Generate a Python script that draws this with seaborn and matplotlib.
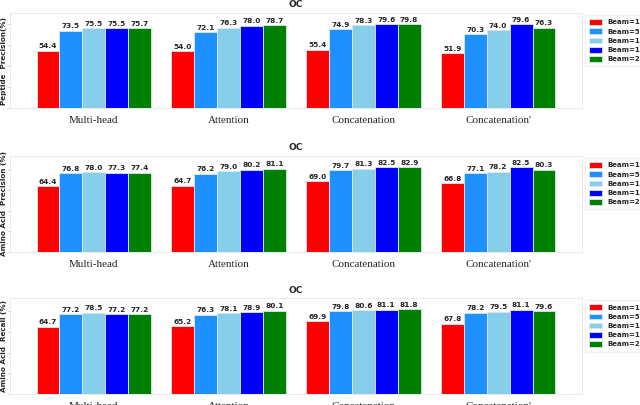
import numpy as np
import matplotlib as mpl
mpl.use('Agg')
import matplotlib.pyplot as plt
import seaborn as sns
import pandas as pd

models = ['Multi-head', 'Attention', 'Concatenation', "Concatenation'"]
beams = ['Beam=1', 'Beam=5', 'Beam=10', 'Beam=15', 'Beam=20']
colors = ['red', 'dodgerblue', 'skyblue', 'blue', 'green']

# rows = models, cols = beams
pep_prec = [[54.4, 73.5, 75.5, 75.5, 75.7],
            [54.0, 72.1, 76.3, 78.0, 78.7],
            [55.4, 74.9, 78.3, 79.6, 79.8],
            [51.9, 70.3, 74.0, 79.6, 76.3]]
aa_prec = [[64.4, 76.8, 78.0, 77.3, 77.4],
           [64.7, 76.2, 79.0, 80.2, 81.1],
           [69.0, 79.7, 81.3, 82.5, 82.9],
           [66.8, 77.1, 78.2, 82.5, 80.3]]
aa_rec = [[64.7, 77.2, 78.5, 77.2, 77.2],
          [65.2, 76.3, 78.1, 78.9, 80.1],
          [69.9, 79.8, 80.6, 81.1, 81.8],
          [67.8, 78.2, 79.5, 81.1, 79.6]]

panels = [(pep_prec, 'Peptide  Precision(%)'),
          (aa_prec, 'Amino Acid  Precision (%)'),
          (aa_rec, 'Amino Acid  Recall (%)')]

sns.set_style('white')
plt.rcParams['font.family'] = ['DejaVu Sans']

fig = plt.figure(figsize=(6.4, 4.05), dpi=100)
boxes = [[0.016, 0.733, 0.893, 0.235],
         [0.016, 0.378, 0.893, 0.237],
         [0.016, 0.027, 0.893, 0.237]]

for (vals, ylab), box in zip(panels, boxes):
    ax = fig.add_axes(box)
    rows = []
    for m, row in zip(models, vals):
        for b, v in zip(beams, row):
            rows.append({'model': m, 'beam': b, 'value': v})
    df = pd.DataFrame(rows)
    sns.barplot(data=df, x='model', y='value', hue='beam', order=models,
                hue_order=beams, palette=colors, width=0.85, ax=ax,
                saturation=1, edgecolor='#d8e8f0', linewidth=0.6,
                errorbar=None)
    for c in ax.containers:
        ax.bar_label(c, fmt='%.1f', fontsize=5.3, fontweight='bold', padding=1)
    ymax = max(max(r) for r in vals)
    ax.set_ylim(0, ymax * 1.13)
    ax.set_xlim(-0.62, 3.62)
    ax.yaxis.set_major_locator(mpl.ticker.MultipleLocator(20))
    ax.tick_params(axis='y', left=True, length=2, width=0.5, color='#cccccc',
                   labelleft=False)
    ax.tick_params(axis='x', bottom=False, pad=2)
    for lab in ax.get_xticklabels():
        lab.set_fontfamily('Liberation Serif')
        lab.set_fontsize(8)
    for s in ax.spines.values():
        s.set_color('#e6e6e6')
        s.set_linewidth(0.6)
    ax.set_xlabel('')
    ax.set_ylabel(ylab, fontsize=5.2, fontweight='bold')
    ax.yaxis.set_label_coords(-0.006, 0.5)
    ax.set_title('OC', fontsize=6.5, fontweight='bold', pad=4)
    ax.legend(loc='upper left', bbox_to_anchor=(1.002, 1.0),
              prop={'weight': 'bold', 'size': 5}, frameon=True,
              edgecolor='#eeeeee', fancybox=False, handlelength=1.9,
              handleheight=0.9, handletextpad=0.7, labelspacing=0.42,
              borderpad=0.6, borderaxespad=0.3)

fig.savefig('out.png', dpi=100)
